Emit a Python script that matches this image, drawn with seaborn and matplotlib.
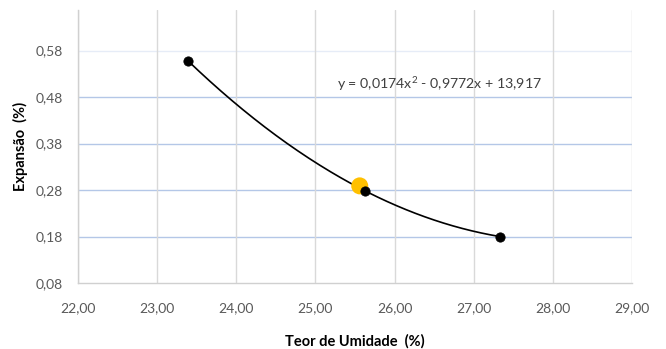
import numpy as np
import pandas as pd
import matplotlib
matplotlib.use("Agg")
import matplotlib.pyplot as plt
import seaborn as sns

# measured points (moisture content vs expansion)
teor_umidade = [23.39, 25.63, 27.33]
expansao = [0.558, 0.278, 0.180]

# highlighted point (optimum)
destaque_x = [25.56]
destaque_y = [0.289]

equacao = "y = 0,0174x$^2$ - 0,9772x + 13,917"
x_ticks = [22, 23, 24, 25, 26, 27, 28, 29]
y_ticks = [0.08, 0.18, 0.28, 0.38, 0.48, 0.58]

sns.set_style("white")
plt.rcParams['font.family'] = ['Lato', 'DejaVu Sans']
plt.rcParams['mathtext.fontset'] = 'custom'
plt.rcParams['mathtext.rm'] = 'Lato'

fig = plt.figure(figsize=(6.66, 3.49), dpi=100)
ax = fig.add_axes([0.117, 0.189, 0.832, 0.782])

# polynomial trend line through the points
coef = np.polyfit(teor_umidade, expansao, 2)
xs = np.linspace(min(teor_umidade), max(teor_umidade), 200)
trend = pd.DataFrame({'x': xs, 'y': np.polyval(coef, xs)})
sns.lineplot(data=trend, x='x', y='y', ax=ax, color='black', linewidth=1.2, zorder=3)

df = pd.DataFrame({'x': teor_umidade, 'y': expansao})
sns.scatterplot(data=df, x='x', y='y', ax=ax, color='black', s=45, edgecolor='black', zorder=4)
sns.scatterplot(x=destaque_x, y=destaque_y, ax=ax, color='#FFC000', s=150, edgecolor='none', zorder=3)

ax.set_xlim(22, 29)
ax.set_ylim(0.08, 0.667)
ax.set_xticks(x_ticks)
ax.set_yticks(y_ticks)
ax.set_xticklabels([f"{v:.2f}".replace('.', ',') for v in x_ticks])
ax.set_yticklabels([f"{v:.2f}".replace('.', ',') for v in y_ticks])
ax.tick_params(axis='x', colors='#595959', labelsize=10, length=0, pad=14)
ax.tick_params(axis='y', colors='#595959', labelsize=10, length=0, pad=11)

# gridlines: blue horizontal, grey vertical
for v in y_ticks[1:]:
    ax.axhline(v, color='#b4c7e7' if v < 0.58 else '#e6ecf7', linewidth=1, zorder=1)
for v in x_ticks:
    ax.axvline(v, color='#d9d9d9', linewidth=1, zorder=1)

for s in ['top', 'right']:
    ax.spines[s].set_visible(False)
for s in ['left', 'bottom']:
    ax.spines[s].set_color('#d0d0d0')
    ax.spines[s].set_linewidth(1)

ax.set_xlabel('Teor de Umidade  (%)', fontsize=10.5, fontweight='bold', color='black', labelpad=14)
ax.set_ylabel('Expansão  (%)', fontsize=10.5, fontweight='bold', color='black', labelpad=5)

ax.text(25.27, 0.488, equacao, fontsize=10.2, color='#404040', va='bottom', ha='left')

fig.savefig('out.png', dpi=100)
